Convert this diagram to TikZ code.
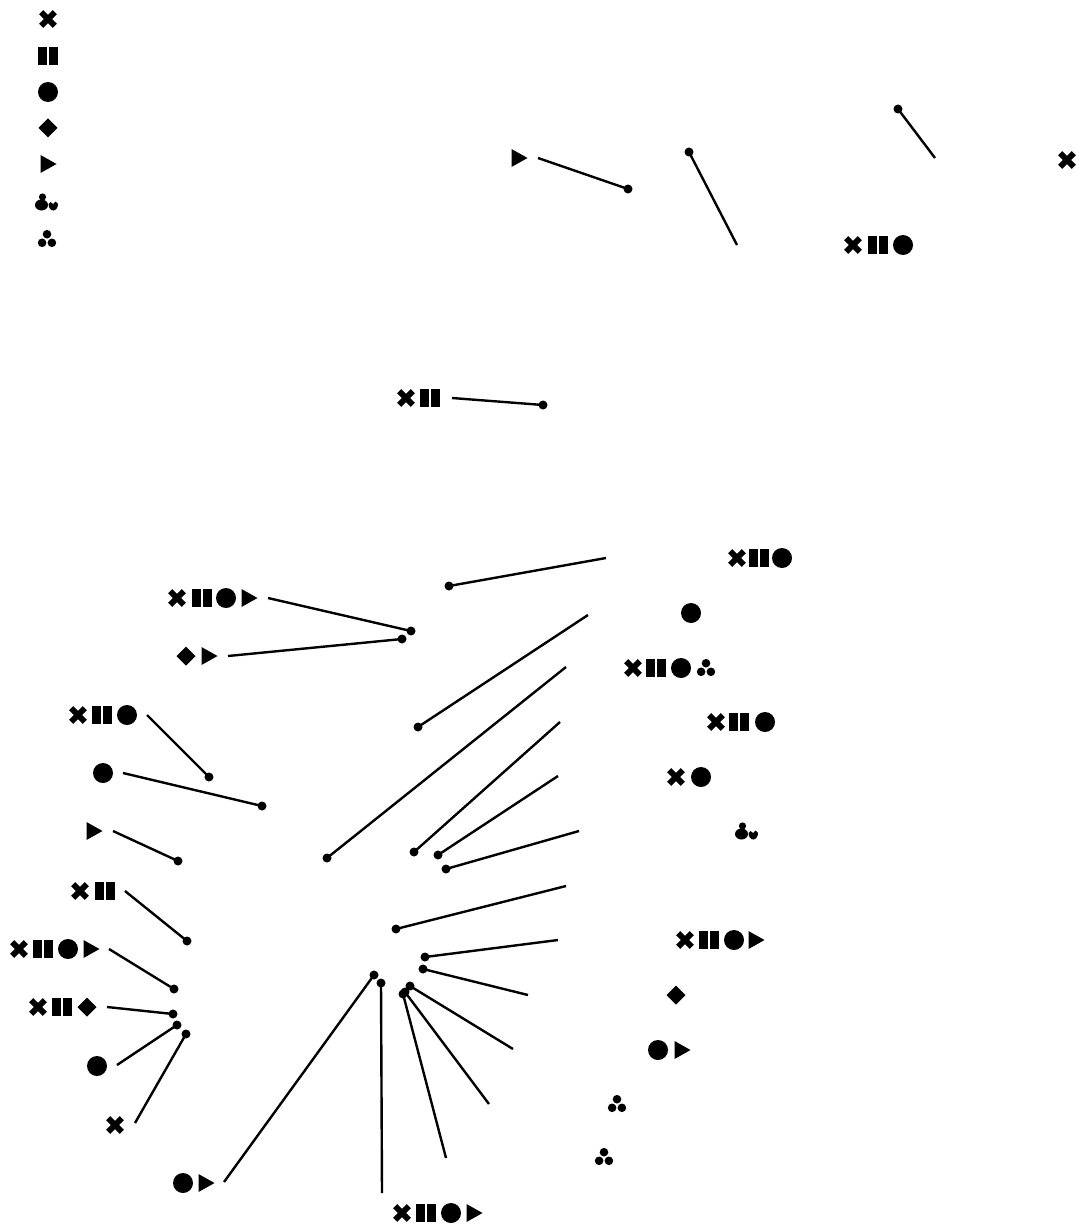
\documentclass[tikz,border=0pt]{standalone}
\begin{document}
\begin{tikzpicture}[x=1pt,y=-1pt,
  conn/.style={line width=2.4pt},
  gx/.pic={\draw[line width=5.8pt] (-6.8,-6.8)--(6.8,6.8) (-6.8,6.8)--(6.8,-6.8);},
  gp/.pic={\fill (-9.8,-9) rectangle (-1.3,9); \fill (1.3,-9) rectangle (9.8,9);},
  gc/.pic={\fill (0,0) circle (10);},
  gd/.pic={\fill (0,-9.5)--(9.5,0)--(0,9.5)--(-9.5,0)--cycle;},
  gt/.pic={\fill (-7.5,-9)--(8.5,0)--(-7.5,9)--cycle;},
  gk/.pic={\fill (-3.5,-5) circle (3.6); \fill (-4.5,3) ellipse (6.5 and 5.5);
           \fill (2.5,2)--(4.5,0)--(7,2)--(9.5,-0.5)--(12,2) arc (0:180:4.75 and 6.5) -- cycle;},
  gm/.pic={\fill (0,-4.8) circle (4.3) (-4.9,3.8) circle (4.3) (4.9,3.8) circle (4.3);}
]
\useasboundingbox (0,0) rectangle (1081,1225);

% legend
\pic at (48,19) {gx};
\pic at (48,56) {gp};
\pic at (48,92) {gc};
\pic at (48,128) {gd};
\pic at (48,164) {gt};
\pic at (46,202) {gk};
\pic at (47,239) {gm};

% top region
\pic at (519,158) {gt};
\coordinate (t1a) at (538,158); \coordinate (t1b) at (628,189);
\coordinate (t2a) at (737,245); \coordinate (t2b) at (689,152);
\coordinate (t3a) at (935,158); \coordinate (t3b) at (898,109);
\foreach \i in {1,2,3}{\draw[conn] (t\i a) -- (t\i b); \fill (t\i b) circle (4.5);}
\pic at (1067,160) {gx};
\pic at (853,245) {gx}; \pic at (878,245) {gp}; \pic at (903,245) {gc};

\pic at (406,398) {gx}; \pic at (430,398) {gp};
\coordinate (m1a) at (452,398); \coordinate (m1b) at (543,405);
\draw[conn] (m1a) -- (m1b); \fill (m1b) circle (4.5);

% right column labels
\pic at (737,558) {gx}; \pic at (759,558) {gp}; \pic at (782,558) {gc};
\pic at (691,613) {gc};
\pic at (633,668) {gx}; \pic at (656,668) {gp}; \pic at (681,668) {gc}; \pic at (706,668) {gm};
\pic at (716,722) {gx}; \pic at (739,722) {gp}; \pic at (765,722) {gc};
\pic at (676,777) {gx}; \pic at (701,777) {gc};
\pic at (746,831) {gk};
\pic at (685,940) {gx}; \pic at (709,940) {gp}; \pic at (734,940) {gc}; \pic at (756,940) {gt};
\pic at (676,995) {gd};
\pic at (658,1050) {gc}; \pic at (682,1050) {gt};
\pic at (617,1104) {gm};
\pic at (604,1157) {gm};

% free-end connectors on the right
\coordinate (r1a) at (606,558); \coordinate (r1b) at (449,586);
\coordinate (r2a) at (588,615); \coordinate (r2b) at (418,727);
\coordinate (r3a) at (566,667); \coordinate (r3b) at (327,858);
\coordinate (r4a) at (560,722); \coordinate (r4b) at (414,852);
\coordinate (r5a) at (558,776); \coordinate (r5b) at (438,855);
\coordinate (r6a) at (579,831); \coordinate (r6b) at (446,869);
\coordinate (r7a) at (566,886); \coordinate (r7b) at (396,929);
\coordinate (r8a) at (558,940); \coordinate (r8b) at (425,957);
\coordinate (r9a) at (528,995); \coordinate (r9b) at (423,969);
\coordinate (r10a) at (513,1049); \coordinate (r10b) at (410,986);
\coordinate (r11a) at (489,1104); \coordinate (r11b) at (405,992);
\coordinate (r12a) at (446,1158); \coordinate (r12b) at (403,994);
\foreach \i in {1,...,12}{\draw[conn] (r\i a) -- (r\i b); \fill (r\i b) circle (4.5);}

% left labels with connectors
\pic at (177,598) {gx}; \pic at (202,598) {gp}; \pic at (226,598) {gc}; \pic at (249,598) {gt};
\coordinate (l1a) at (268,598); \coordinate (l1b) at (411,631);
\pic at (186,656) {gd}; \pic at (209,656) {gt};
\coordinate (l2a) at (228,656); \coordinate (l2b) at (402,639);
\pic at (78,715) {gx}; \pic at (102,715) {gp}; \pic at (127,715) {gc};
\coordinate (l3a) at (147,715); \coordinate (l3b) at (209,777);
\pic at (103,773) {gc};
\coordinate (l4a) at (123,773); \coordinate (l4b) at (262,806);
\pic at (94,831) {gt};
\coordinate (l5a) at (113,831); \coordinate (l5b) at (178,861);
\pic at (80,891) {gx}; \pic at (105,891) {gp};
\coordinate (l6a) at (125,891); \coordinate (l6b) at (187,941);
\pic at (19,949) {gx}; \pic at (43,949) {gp}; \pic at (68,949) {gc}; \pic at (91,949) {gt};
\coordinate (l7a) at (109,949); \coordinate (l7b) at (174,989);
\pic at (38,1007) {gx}; \pic at (62,1007) {gp}; \pic at (87,1007) {gd};
\coordinate (l8a) at (107,1007); \coordinate (l8b) at (173,1014);
\pic at (97,1066) {gc};
\coordinate (l9a) at (117,1065); \coordinate (l9b) at (177,1025);
\pic at (115,1125) {gx};
\coordinate (l10a) at (135,1123); \coordinate (l10b) at (186,1034);
\pic at (183,1183) {gc}; \pic at (206,1183) {gt};
\coordinate (l11a) at (224,1182); \coordinate (l11b) at (374,975);
\pic at (402,1213) {gx}; \pic at (426,1213) {gp}; \pic at (451,1213) {gc}; \pic at (474,1213) {gt};
\coordinate (l12a) at (382,1193); \coordinate (l12b) at (381,983);
\foreach \i in {1,...,12}{\draw[conn] (l\i a) -- (l\i b); \fill (l\i b) circle (4.5);}
\end{tikzpicture}
\end{document}
